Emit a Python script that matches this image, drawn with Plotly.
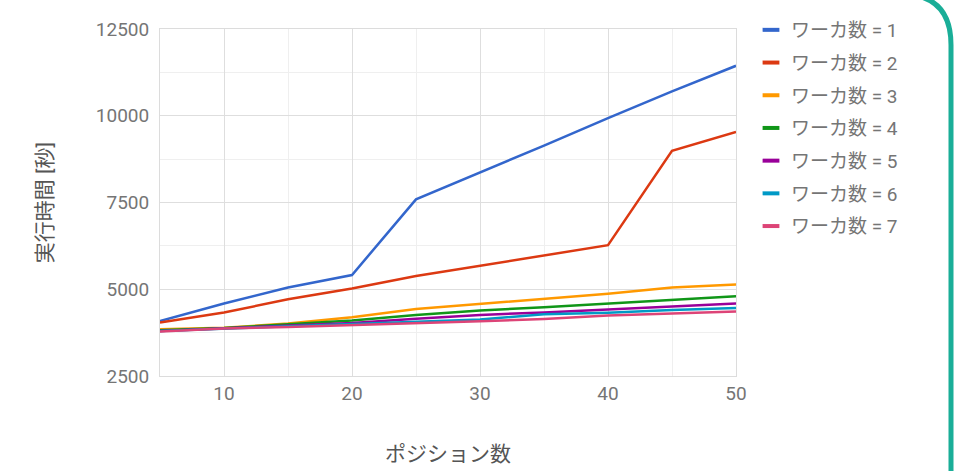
import plotly.graph_objects as go

positions = [5, 10, 15, 20, 25, 30, 35, 40, 45, 50]
w1 = [4080, 4590, 5050, 5410, 7590, 8360, 9140, 9930, 10700, 11440]
w2 = [4040, 4330, 4710, 5020, 5380, 5680, 5990, 6270, 8990, 9530]
w3 = [3850, 3890, 4010, 4190, 4430, 4570, 4730, 4870, 5050, 5140]
w4 = [3820, 3880, 3990, 4100, 4260, 4390, 4480, 4590, 4700, 4800]
w5 = [3800, 3880, 3950, 4030, 4150, 4260, 4330, 4420, 4520, 4590]
w6 = [3800, 3870, 3930, 3990, 4060, 4130, 4280, 4320, 4400, 4460]
w7 = [3780, 3870, 3910, 3960, 4020, 4080, 4140, 4240, 4300, 4360]

series = [w1, w2, w3, w4, w5, w6, w7]
names = ["ワーカ数 = 1", "ワーカ数 = 2", "ワーカ数 = 3", "ワーカ数 = 4",
         "ワーカ数 = 5", "ワーカ数 = 6", "ワーカ数 = 7"]
colors = ["#3366cc", "#dc3912", "#ff9900", "#109618", "#990099", "#0099c6", "#dd4477"]

y_ticks = [2500, 5000, 7500, 10000, 12500]
x_ticks = [10, 20, 30, 40, 50]

FONT = "Roboto, 'Noto Sans CJK JP', sans-serif"
GRAY = "#757575"

fig = go.Figure()
for vals, name, col in zip(series, names, colors):
    fig.add_trace(go.Scatter(x=positions, y=vals, mode="lines", name=name,
                             line=dict(color=col, width=2.5), showlegend=False))
for name, col in zip(names, colors):
    fig.add_trace(go.Scatter(x=[None], y=[None], mode="markers", name=name,
                             legendgroup=name, showlegend=True,
                             marker=dict(symbol="line-ew-open", size=12, color=col,
                                         line=dict(color=col, width=4))))

# plot area in pixels
L, R, T, B, W, H = 160, 234, 29, 95, 970, 471
pw, ph = W - L - R, H - T - B
def px(x):
    return (x - L) / pw
def py(y):
    return (H - B - y) / ph

path = (f"M {px(600)},{py(-6)} L {px(900)},{py(-6)} "
        f"Q {px(951)},{py(-6)} {px(951)},{py(45)} L {px(951)},{py(480)}")
fig.add_shape(type="path", path=path, xref="paper", yref="paper",
              line=dict(color="#1aae98", width=5))

fig.update_layout(
    width=W, height=H,
    margin=dict(l=L, r=R, t=T, b=B, autoexpand=False),
    paper_bgcolor="white", plot_bgcolor="white",
    font=dict(family=FONT, color=GRAY, size=19),
    legend=dict(x=px(751), y=py(11), xanchor="left", yanchor="top",
                font=dict(size=19, color=GRAY), tracegroupgap=5,
                bgcolor="rgba(0,0,0,0)", itemclick=False),
    xaxis=dict(range=[5, 50], tickvals=x_ticks, ticktext=[str(t) for t in x_ticks],
               showgrid=True, gridcolor="#dedede", gridwidth=1, automargin=False,
               minor=dict(dtick=5, tick0=0, showgrid=True, gridcolor="#efefef"),
               showline=True, linecolor="#dcdcdc", mirror=True, zeroline=False,
               ticks="", tickfont=dict(size=19, color=GRAY),
               title=dict(text="ポジション数", font=dict(size=21, color="#555555"), standoff=42)),
    yaxis=dict(range=[2500, 12500], tickvals=y_ticks, ticktext=[str(t) for t in y_ticks],
               showgrid=True, gridcolor="#dedede", gridwidth=1, automargin=False,
               minor=dict(dtick=1250, tick0=0, showgrid=True, gridcolor="#efefef"),
               showline=True, linecolor="#dcdcdc", mirror=True, zeroline=False,
               ticks="", ticklabelstandoff=6, tickfont=dict(size=19, color=GRAY),
               title=dict(text="実行時間 [秒]", font=dict(size=21, color="#555555"), standoff=37)),
)

fig.write_html("out.html")
